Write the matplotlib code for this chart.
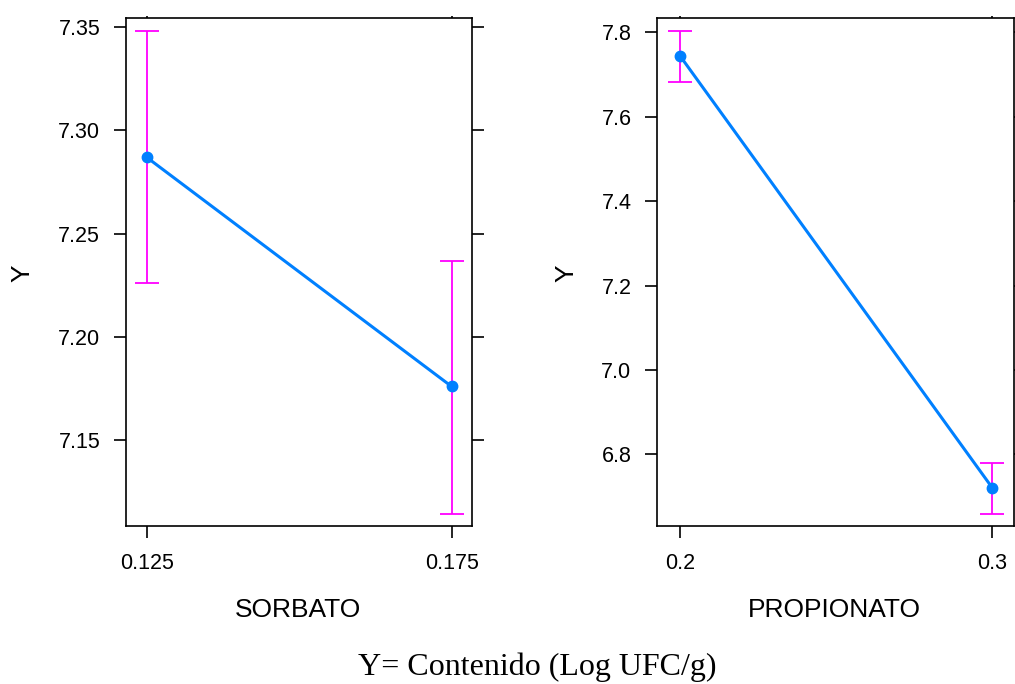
# Efectos principales: SORBATO y PROPIONATO sobre Y
import matplotlib.pyplot as plt
import numpy as np

# Data
sorbato_x = [0.125, 0.175]
sorbato_y = [7.287, 7.176]
sorbato_lo = [7.226, 7.114]
sorbato_hi = [7.348, 7.237]
sorbato_yticks = [7.15, 7.20, 7.25, 7.30, 7.35]

propionato_x = [0.2, 0.3]
propionato_y = [7.745, 6.721]
propionato_lo = [7.682, 6.659]
propionato_hi = [7.804, 6.780]
propionato_yticks = [6.8, 7.0, 7.2, 7.4, 7.6, 7.8]

caption = "Y= Contenido (Log UFC/g)"

plt.rcParams['font.family'] = ['Liberation Sans', 'DejaVu Sans']

blue = '#0080ff'
magenta = '#ff00ff'

fig = plt.figure(figsize=(10.15, 6.84), dpi=100)
ax1 = fig.add_axes([126 / 1015, 1 - 526 / 684, (471.7 - 126) / 1015, 508 / 684])
ax2 = fig.add_axes([657.3 / 1015, 1 - 526 / 684, (1014 - 657.3) / 1015, 508 / 684])


def effect_panel(ax, x, y, lo, hi, yticks, ylim, xlim, xlabel, fmt):
    x = np.array(x)
    y = np.array(y)
    err = [y - np.array(lo), np.array(hi) - y]
    ax.errorbar(x, y, yerr=err, fmt='none', ecolor=magenta, elinewidth=1.3,
                capsize=8.5, capthick=1.3, zorder=2)
    ax.plot(x, y, color=blue, lw=2.2, marker='o', ms=7.5, zorder=3)
    ax.set_xlim(xlim)
    ax.set_ylim(ylim)
    ax.set_xticks(x)
    ax.set_xticklabels([fmt(v) for v in x])
    ax.set_yticks(yticks)
    ax.tick_params(axis='both', direction='out', length=8.6, width=1.2,
                   labelsize=15.5, colors='black')
    ax.tick_params(axis='y', right=True, pad=10)
    ax.tick_params(axis='x', pad=11)
    for s in ax.spines.values():
        s.set_linewidth(1.2)
    # short ticks on top
    top = ax.secondary_xaxis('top')
    top.set_xticks(x)
    top.set_xticklabels([])
    top.tick_params(direction='out', length=1.5, width=1.2)
    top.spines['top'].set_visible(False)
    ax.set_xlabel(xlabel, fontsize=19)
    ax.set_ylabel('Y', fontsize=19)


effect_panel(ax1, sorbato_x, sorbato_y, sorbato_lo, sorbato_hi,
             sorbato_yticks, (7.1084, 7.3545), (0.1216, 0.1783), 'SORBATO',
             lambda v: f'{v:.3f}')
ax1.set_yticklabels([f'{v:.2f}' for v in sorbato_yticks])

effect_panel(ax2, propionato_x, propionato_y, propionato_lo, propionato_hi,
             propionato_yticks, (6.630, 7.834), (0.1928, 0.307), 'PROPIONATO',
             lambda v: f'{v:.1f}')
ax2.set_yticklabels([f'{v:.1f}' for v in propionato_yticks])

# label positions in figure pixels
ax1.xaxis.set_label_coords((298 - 126) / (471.7 - 126), -(610 - 526) / 508)
ax2.xaxis.set_label_coords((834 - 657.3) / (1014 - 657.3), -(610 - 526) / 508)
ax1.xaxis.label.set_va('center')
ax2.xaxis.label.set_va('center')
ax1.yaxis.set_label_coords(-(126 - 22.5) / (471.7 - 126), (526 - 273) / 508)
ax2.yaxis.set_label_coords(-(657.3 - 566) / (1014 - 657.3), (526 - 273) / 508)
ax1.yaxis.label.set_va('center')
ax2.yaxis.label.set_va('center')

fig.text(537.5 / 1015, 1 - 667 / 684, caption, ha='center', va='center',
         fontsize=23, family=['Liberation Serif', 'DejaVu Serif'])

fig.savefig('out.png', dpi=100)
